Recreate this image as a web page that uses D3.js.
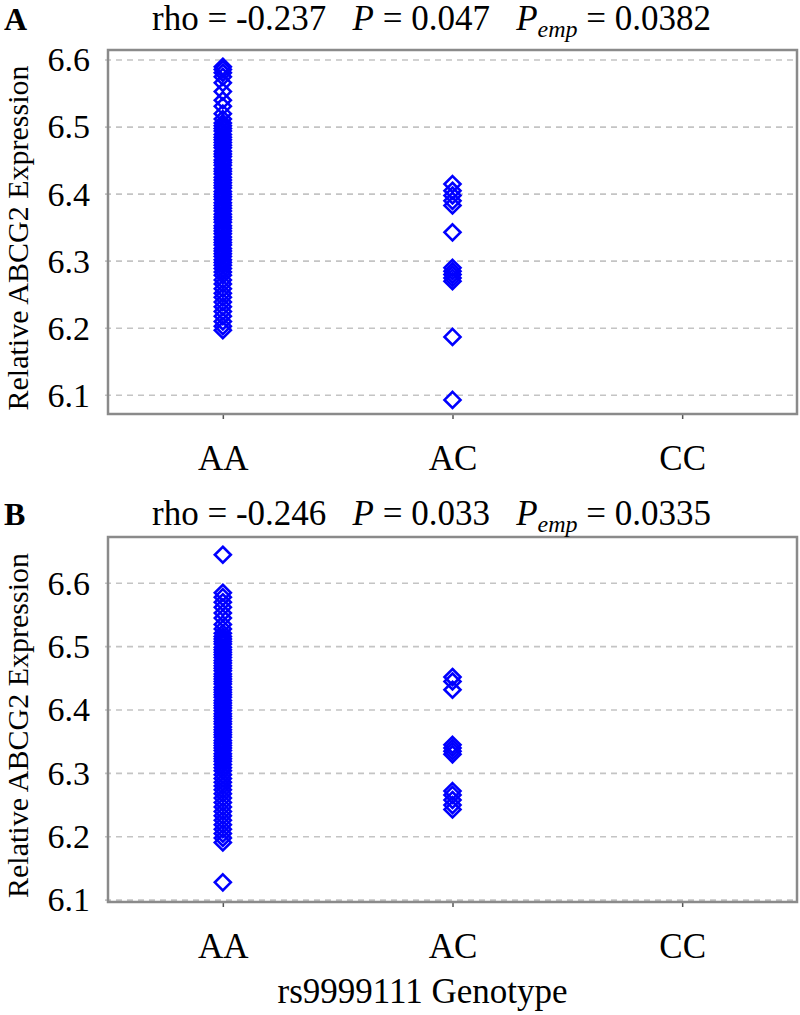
<!DOCTYPE html>
<html>
<head>
<meta charset="utf-8">
<script src="https://cdn.jsdelivr.net/npm/d3@7"></script>
<style>
  html, body { margin: 0; padding: 0; background: #fff; }
  svg { display: block; }
</style>
</head>
<body>
<svg id="chart" width="800" height="1015"></svg>
<script>
// ---------------- data ----------------
const genotypes = ["AA", "AC", "CC"];
const yTickValues = [6.1, 6.2, 6.3, 6.4, 6.5, 6.6];

const panelLabels = ["A", "B"];
const statsA = ["-0.237", "0.047", "0.0382"];
const statsB = ["-0.246", "0.033", "0.0335"];

const domainA = [6.072, 6.615];
const domainB = [6.097, 6.673];

const exprA_AA = [6.590, 6.586, 6.581, 6.575, 6.566, 6.553, 6.540, 6.531, 6.520, 6.512,
  6.506, 6.502, 6.498, 6.494, 6.489, 6.485, 6.481, 6.477, 6.473, 6.469, 6.464, 6.460,
  6.456, 6.451, 6.447, 6.443, 6.438, 6.434, 6.430, 6.425, 6.421, 6.417, 6.413, 6.409,
  6.404, 6.400, 6.396, 6.392, 6.387, 6.383, 6.379, 6.375, 6.370, 6.366, 6.362, 6.358,
  6.353, 6.349, 6.345, 6.341, 6.336, 6.332, 6.328, 6.324, 6.319, 6.315, 6.311, 6.307,
  6.302, 6.298, 6.294, 6.289, 6.284, 6.279, 6.272, 6.266, 6.259, 6.252, 6.246, 6.239,
  6.232, 6.225, 6.218, 6.210, 6.203, 6.197];
const exprA_AC = [6.415, 6.405, 6.398, 6.390, 6.383, 6.343, 6.290, 6.285, 6.280, 6.275,
  6.270, 6.187, 6.093];

const exprB_AA = [6.645, 6.585, 6.578, 6.570, 6.562, 6.553, 6.545, 6.535, 6.528, 6.521,
  6.516, 6.512, 6.508, 6.504, 6.499, 6.495, 6.491, 6.487, 6.483, 6.478, 6.474, 6.470,
  6.466, 6.462, 6.457, 6.453, 6.449, 6.445, 6.441, 6.436, 6.432, 6.428, 6.424, 6.420,
  6.415, 6.411, 6.407, 6.403, 6.399, 6.394, 6.390, 6.386, 6.382, 6.378, 6.373, 6.369,
  6.365, 6.361, 6.357, 6.352, 6.348, 6.344, 6.340, 6.336, 6.331, 6.327, 6.323, 6.319,
  6.314, 6.309, 6.304, 6.298, 6.292, 6.286, 6.280, 6.274, 6.268, 6.261, 6.254, 6.247,
  6.240, 6.233, 6.226, 6.219, 6.212, 6.205, 6.198, 6.191, 6.128];
const exprB_AC = [6.452, 6.445, 6.432, 6.345, 6.340, 6.335, 6.330, 6.272, 6.266, 6.258,
  6.250, 6.243];

const yTitle = "Relative ABCG2 Expression";
const xTitle = "rs9999111 Genotype";

// ---------------- drawing ----------------
const FONT = "'Liberation Serif', 'Times New Roman', Tinos, 'Nimbus Roman', 'DejaVu Serif', serif";
const svg = d3.select("#chart").attr("font-family", FONT);
const left = 108, right = 797;

const diamond = {
  draw(ctx, size) {
    const r = Math.sqrt(size) / 2;
    ctx.moveTo(0, -r); ctx.lineTo(r, 0); ctx.lineTo(0, r); ctx.lineTo(-r, 0); ctx.closePath();
  }
};
const symbolPath = d3.symbol().type(diamond).size(256)();

function drawPanel(cfg) {
  const g = svg.append("g");
  const x = d3.scalePoint().domain(genotypes).range([left, right]).padding(0.5);
  const y = d3.scaleLinear().domain(cfg.domain).range([cfg.bottom, cfg.top]);

  // grid lines
  g.append("g").selectAll("line").data(yTickValues).join("line")
    .attr("x1", left - 3).attr("x2", right)
    .attr("y1", d => y(d)).attr("y2", d => y(d))
    .attr("stroke", "#c4c4c4").attr("stroke-width", 1.6)
    .attr("stroke-dasharray", "6,5");

  // y tick labels
  const yAxis = d3.axisLeft(y).tickValues(yTickValues).tickFormat(d3.format(".1f")).tickSize(0).tickPadding(0);
  const ya = g.append("g").attr("transform", `translate(${left - 18},0)`).call(yAxis)
    .attr("font-family", FONT).attr("font-size", 34);
  ya.select(".domain").remove();
  ya.selectAll("text").attr("fill", "#000");

  // x axis ticks + labels
  const xAxis = d3.axisBottom(x).tickSize(5).tickPadding(26);
  const xa = g.append("g").attr("transform", `translate(0,${cfg.bottom})`).call(xAxis)
    .attr("font-family", FONT).attr("font-size", 35);
  xa.select(".domain").remove();
  xa.selectAll("line").attr("stroke", "#555").attr("stroke-width", 1.5);
  xa.selectAll("text").attr("fill", "#000");

  // frame
  g.append("rect").attr("x", left).attr("y", cfg.top)
    .attr("width", right - left).attr("height", cfg.bottom - cfg.top)
    .attr("fill", "none").attr("stroke", "#8a8a8a").attr("stroke-width", 2.5);

  // points
  const pts = [];
  cfg.series.forEach((vals, i) => vals.forEach(v => pts.push({ g: genotypes[i], v })));
  g.append("g").selectAll("path").data(pts).join("path")
    .attr("d", symbolPath)
    .attr("transform", d => `translate(${x(d.g)},${y(d.v)})`)
    .attr("fill", "none").attr("stroke", "#0000ff").attr("stroke-width", 2.6);

  // panel letter
  g.append("text").attr("x", 4).attr("y", cfg.titleY)
    .attr("font-size", 32).attr("font-weight", "bold").text(cfg.label);

  // title
  const t = g.append("text").attr("x", 152).attr("y", cfg.titleY)
    .attr("font-size", 35).style("white-space", "pre");
  t.append("tspan").text("rho = " + cfg.stats[0] + "   ");
  t.append("tspan").attr("font-style", "italic").text("P");
  t.append("tspan").text(" = " + cfg.stats[1] + "   ");
  t.append("tspan").attr("font-style", "italic").text("P");
  t.append("tspan").attr("font-style", "italic").attr("font-size", 24).attr("dy", 7).text("emp");
  t.append("tspan").attr("dy", -7).text(" = " + cfg.stats[2]);

  // y title
  g.append("text")
    .attr("transform", `translate(28,${(cfg.top + cfg.bottom) / 2 + 6}) rotate(-90)`)
    .attr("text-anchor", "middle").attr("font-size", 30).text(yTitle);
}

drawPanel({ label: panelLabels[0], stats: statsA, domain: domainA, top: 50, bottom: 414, titleY: 30,
  series: [exprA_AA, exprA_AC, []] });
drawPanel({ label: panelLabels[1], stats: statsB, domain: domainB, top: 537, bottom: 902, titleY: 525,
  series: [exprB_AA, exprB_AC, []] });

svg.append("text").attr("x", (left + right) / 2 - 30).attr("y", 1003)
  .attr("text-anchor", "middle").attr("font-size", 35).text(xTitle);
</script>
</body>
</html>
